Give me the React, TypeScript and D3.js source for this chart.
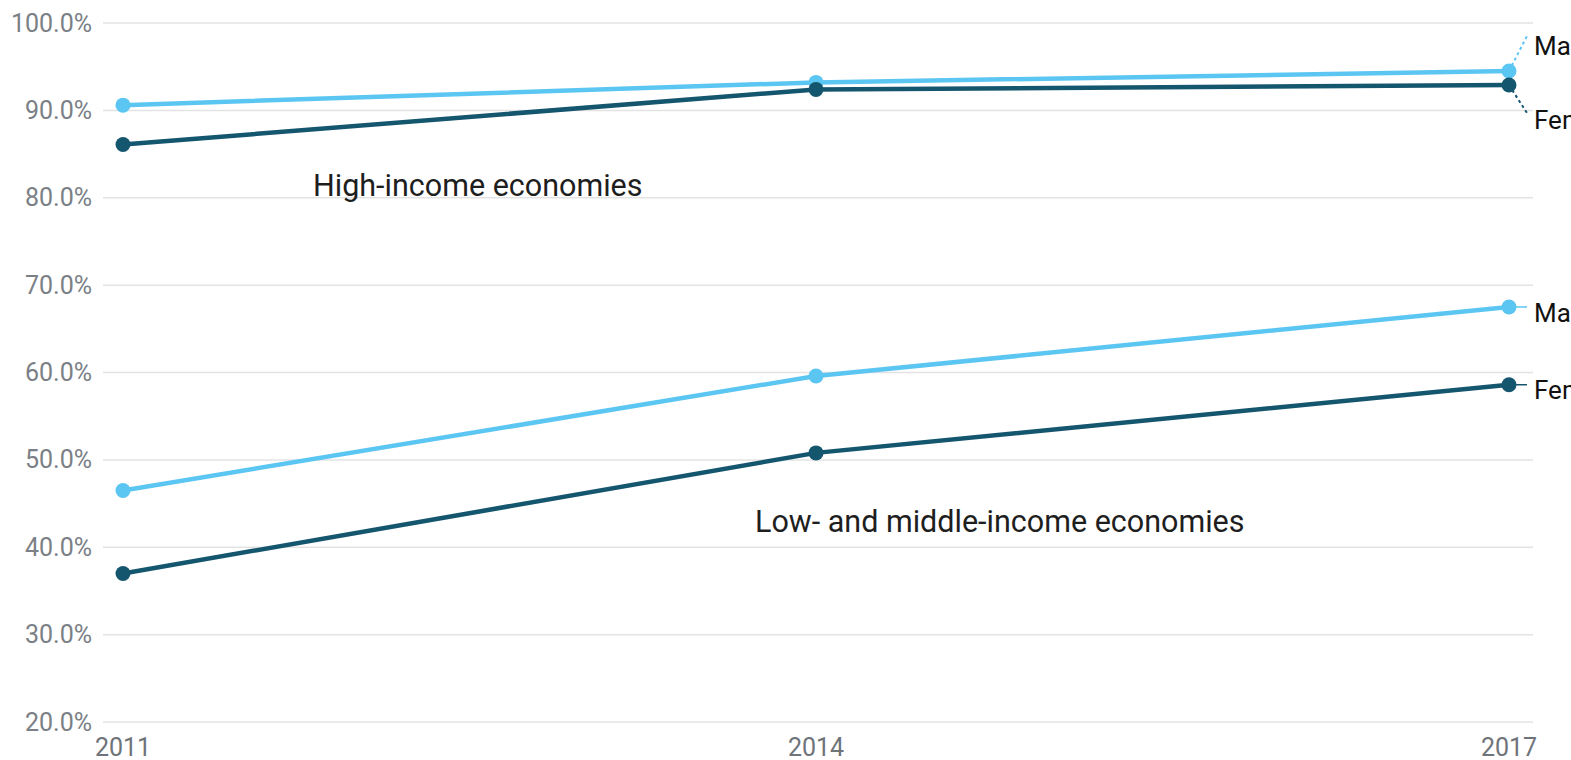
import React from "react";
import * as d3 from "d3";

const years = [2011, 2014, 2017];
const yTicks = [20, 30, 40, 50, 60, 70, 80, 90, 100];
const highMale = [90.6, 93.2, 94.5];
const highFemale = [86.1, 92.4, 92.9];
const lowMale = [46.5, 59.6, 67.5];
const lowFemale = [37.0, 50.8, 58.6];
const seriesLabels = ["Male", "Female"];
const groupLabels = ["High-income economies", "Low- and middle-income economies"];

const LIGHT = "#5cc6f2";
const DARK = "#15566f";
const FONT = "Roboto, 'Noto Sans', Arial, sans-serif";

export default function App() {
  const W = 1571, H = 760;
  const x = d3.scalePoint<number>().domain(years).range([123, 1509]);
  const y = d3.scaleLinear().domain([20, 100]).range([722, 23]);
  const line = d3
    .line<number>()
    .x((_, i) => x(years[i]) as number)
    .y((d) => y(d));

  const series = [
    { data: highMale, color: LIGHT },
    { data: highFemale, color: DARK },
    { data: lowMale, color: LIGHT },
    { data: lowFemale, color: DARK },
  ];
  const lastX = x(2017) as number;
  const labelX = 1527;

  return (
    <svg
      width={W}
      height={H}
      style={{ position: "absolute", left: 0, top: 0, background: "#fff" }}
    >
      {yTicks.map((t) => (
        <g key={t}>
          <line x1={103} x2={1533} y1={y(t)} y2={y(t)} stroke="#e3e3e3" strokeWidth={1.5} />
          <text
            x={92}
            y={y(t)}
            textAnchor="end"
            dominantBaseline="central"
            fontFamily={FONT}
            fontSize={25}
            fill="#7b7f86"
          >
            {t.toFixed(1)}%
          </text>
        </g>
      ))}
      {years.map((yr) => (
        <text
          key={yr}
          x={x(yr) as number}
          y={747}
          textAnchor="middle"
          dominantBaseline="central"
          fontFamily={FONT}
          fontSize={25}
          fill="#6f737a"
        >
          {yr}
        </text>
      ))}

      {/* connectors */}
      <line x1={lastX} y1={y(highMale[2])} x2={labelX} y2={36} stroke={LIGHT} strokeWidth={2} strokeDasharray="3,3" />
      <line x1={lastX} y1={y(highFemale[2])} x2={labelX} y2={113} stroke={DARK} strokeWidth={2} strokeDasharray="3,3" />
      <line x1={lastX} y1={y(lowMale[2])} x2={labelX} y2={y(lowMale[2])} stroke={LIGHT} strokeWidth={1.5} />
      <line x1={lastX} y1={y(lowFemale[2])} x2={labelX} y2={y(lowFemale[2])} stroke={DARK} strokeWidth={1.5} />

      {series.map((s, i) => (
        <g key={i}>
          <path d={line(s.data) || ""} fill="none" stroke={s.color} strokeWidth={4.5} />
          {s.data.map((v, j) => (
            <circle key={j} cx={x(years[j]) as number} cy={y(v)} r={7.5} fill={s.color} />
          ))}
        </g>
      ))}

      {[
        { t: seriesLabels[0], yy: 46 },
        { t: seriesLabels[1], yy: 120 },
        { t: seriesLabels[0], yy: y(lowMale[2]) + 6 },
        { t: seriesLabels[1], yy: y(lowFemale[2]) + 5 },
      ].map((l, i) => (
        <text
          key={i}
          x={1534}
          y={l.yy}
          dominantBaseline="central"
          fontFamily={FONT}
          fontSize={26}
          fill="#111"
        >
          {l.t}
        </text>
      ))}

      <text x={313} y={196} fontFamily={FONT} fontSize={30.5} fill="#1e1e1e">
        {groupLabels[0]}
      </text>
      <text x={755} y={532} fontFamily={FONT} fontSize={30.5} fill="#1e1e1e">
        {groupLabels[1]}
      </text>
    </svg>
  );
}
